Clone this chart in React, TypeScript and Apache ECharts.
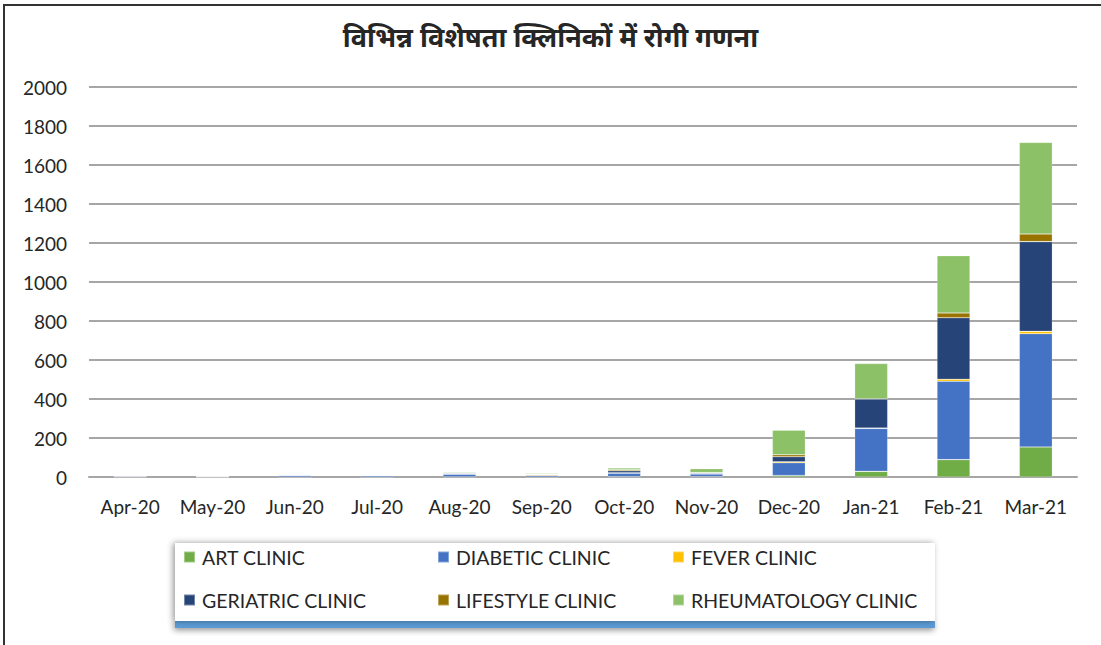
import React, { useEffect, useRef } from "react";
import * as echarts from "echarts";

const categories = ["Apr-20", "May-20", "Jun-20", "Jul-20", "Aug-20", "Sep-20", "Oct-20", "Nov-20", "Dec-20", "Jan-21", "Feb-21", "Mar-21"];
const seriesNames = ["ART CLINIC", "DIABETIC CLINIC", "FEVER CLINIC", "GERIATRIC CLINIC", "LIFESTYLE CLINIC", "RHEUMATOLOGY CLINIC"];
const artClinic = [0, 0, 0, 0, 1, 0, 2, 2, 8, 29, 89, 154];
const diabeticClinic = [4, 2, 8, 7, 14, 8, 18, 14, 65, 220, 402, 581];
const feverClinic = [0, 0, 0, 0, 0, 4, 2, 0, 5, 2, 10, 12];
const geriatricClinic = [2, 1, 3, 4, 4, 4, 10, 5, 26, 149, 316, 460];
const lifestyleClinic = [0, 0, 0, 0, 0, 2, 5, 2, 10, 1, 24, 39];
const rheumatologyClinic = [2, 0, 4, 3, 4, 4, 9, 20, 126, 181, 294, 470];
const seriesColors = ["#70AD47", "#4472C4", "#FFC000", "#264478", "#997300", "#8DC168"];
const titleText = "विभिन्न विशेषता क्लिनिकों में रोगी गणना";

const FONT = "Lato, 'Noto Sans', sans-serif";

export default function App() {
  const ref = useRef<HTMLDivElement>(null);
  useEffect(() => {
    document.body.style.margin = "0";
    const chart = echarts.init(ref.current!, null, { renderer: "svg" });
    const values = [artClinic, diabeticClinic, feverClinic, geriatricClinic, lifestyleClinic, rheumatologyClinic];
    const legendPos = [
      [183, 547], [437, 547], [672, 547],
      [183, 590], [437, 590], [672, 590],
    ];
    chart.setOption({
      animation: false,
      backgroundColor: "#ffffff",
      title: {
        text: titleText,
        left: "center",
        top: 18,
        textStyle: { fontSize: 27, fontWeight: "bold", color: "#262626", fontFamily: "'Noto Sans', sans-serif" },
      },
      graphic: [
        {
          type: "rect",
          shape: { x: 4, y: 5, width: 1200, height: 800 },
          style: { fill: "none", stroke: "#333333", lineWidth: 2 },
          silent: true,
        },
        {
          type: "rect",
          shape: { x: 175, y: 620, width: 760, height: 8 },
          style: { fill: "#5B9BD5", shadowColor: "rgba(0,0,0,0.45)", shadowBlur: 6, shadowOffsetY: 2, shadowOffsetX: -1 },
          silent: true,
          z: -1,
        },
        {
          type: "rect",
          shape: { x: 175, y: 543, width: 760, height: 78 },
          style: { fill: "#ffffff", shadowColor: "rgba(0,0,0,0.4)", shadowBlur: 6, shadowOffsetX: -2, shadowOffsetY: 0 },
          silent: true,
          z: -1,
        },
      ],
      legend: seriesNames.map((n, i) => ({
        data: [n],
        left: legendPos[i][0],
        top: legendPos[i][1],
        padding: 0,
        itemWidth: 11,
        itemHeight: 11,
        itemGap: 5,
        icon: "rect",
        textStyle: { fontSize: 19.5, color: "#262626", fontFamily: FONT, padding: [0, 0, 0, 2] },
      })),
      grid: { left: 89, right: 24, top: 87, bottom: 168, containLabel: false },
      xAxis: {
        type: "category",
        data: categories,
        axisTick: { show: false },
        axisLine: { lineStyle: { color: "#A6A6A6", width: 2 } },
        axisLabel: { fontSize: 19, color: "#262626", margin: 20, fontFamily: FONT, interval: 0 },
      },
      yAxis: {
        type: "value",
        min: 0,
        max: 2000,
        interval: 200,
        axisLine: { show: false },
        axisTick: { show: false },
        splitLine: { lineStyle: { color: "#A6A6A6", width: 2 } },
        axisLabel: { fontSize: 19, color: "#262626", margin: 22, fontFamily: FONT, formatter: (v: number) => String(v) },
      },
      series: seriesNames.map((n, i) => ({
        name: n,
        type: "bar",
        stack: "total",
        data: values[i],
        barWidth: 33,
        itemStyle: { color: seriesColors[i], borderColor: "rgba(255,255,255,0.35)", borderWidth: 0.6 },
      })),
    });
    return () => chart.dispose();
  }, []);
  return <div ref={ref} style={{ width: 1101, height: 645 }} />;
}
